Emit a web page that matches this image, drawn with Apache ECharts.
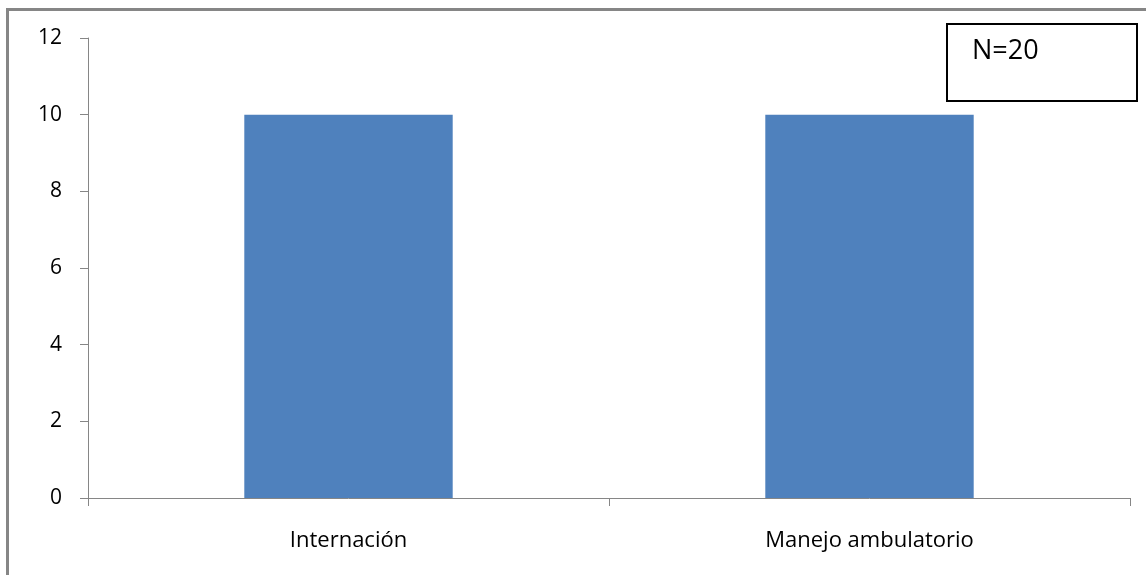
<!DOCTYPE html>
<html>
<head>
<meta charset="utf-8">
<script src="https://cdn.jsdelivr.net/npm/echarts@6/dist/echarts.min.js"></script>
<style>
  html, body { margin: 0; padding: 0; background: #fff; }
  #chart { width: 1146px; height: 575px; }
</style>
</head>
<body>
<div id="chart"></div>
<script>
const categories = ["Internación", "Manejo ambulatorio"];
const counts = [10, 10];
const yTicks = { min: 0, max: 12, interval: 2 };
const noteText = "N=20";

const axisGray = "#868686";
const font = "'Open Sans', sans-serif";

const myChart = echarts.init(document.getElementById("chart"));
const option = {
    animation: false,
    backgroundColor: "#fff",
    grid: {
        left: 88,
        right: 16,
        top: 38,
        bottom: 77,
        containLabel: false,
    },
    xAxis: {
        type: "category",
        data: categories,
        axisLine: { lineStyle: { color: axisGray, width: 1 } },
        axisTick: { show: true, length: 8, lineStyle: { color: axisGray } },
        axisLabel: {
            color: "#000",
            fontFamily: font,
            fontSize: 22,
            margin: 32,
        },
        splitLine: { show: false },
    },
    yAxis: {
        type: "value",
        min: yTicks.min,
        max: yTicks.max,
        interval: yTicks.interval,
        axisLine: { show: true, lineStyle: { color: axisGray, width: 1 } },
        axisTick: { show: true, length: 8, lineStyle: { color: axisGray } },
        axisLabel: {
            color: "#000",
            fontFamily: font,
            fontSize: 21,
            margin: 26,
        },
        splitLine: { show: false },
    },
    series: [
        {
            type: "bar",
            data: counts,
            barWidth: "40%",
            itemStyle: { color: "#4F81BD" },
        },
    ],
    graphic: [
        {
            type: "polyline",
            shape: { points: [[7.5, 575], [7.5, 9.5], [1146, 9.5]] },
            style: { stroke: axisGray, lineWidth: 3, fill: null },
        },
        {
            type: "rect",
            shape: { x: 947, y: 24, width: 190, height: 77 },
            style: { stroke: "#000", lineWidth: 2, fill: "#fff" },
        },
        {
            type: "text",
            left: 972,
            top: 38,
            style: {
                text: noteText,
                fontFamily: font,
                fontSize: 27,
                fill: "#000",
            },
        },
    ],
};
myChart.setOption(option);
</script>
</body>
</html>
